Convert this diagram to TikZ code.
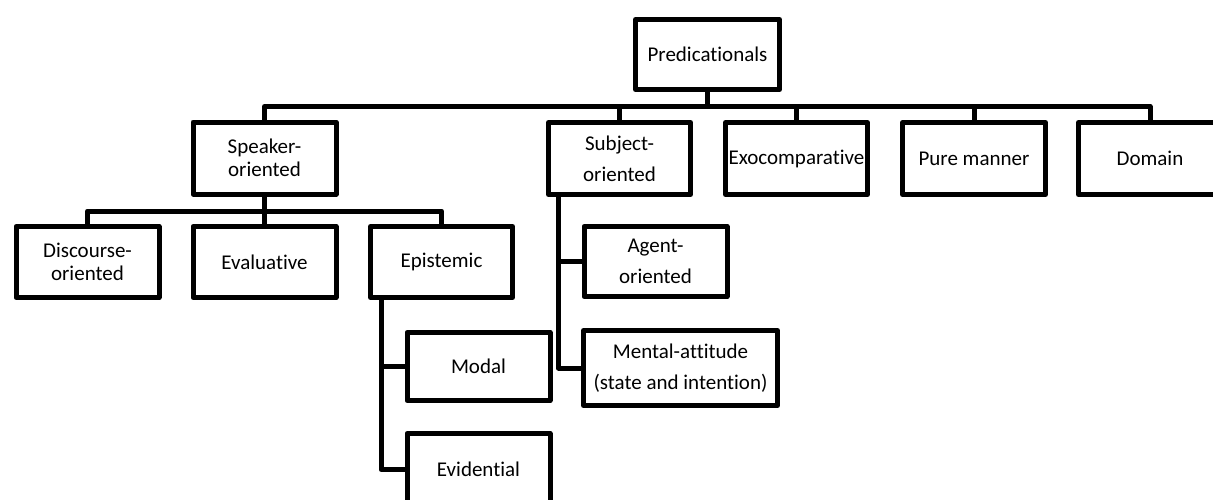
\documentclass[tikz,border=0pt]{standalone}
\usepackage{fontspec}
\setmainfont{Carlito}[Ligatures=NoCommon]
\usetikzlibrary{calc}
\begin{document}
\begin{tikzpicture}[x=1pt,y=-1pt,
  box/.style={draw, line width=5pt, line join=round, inner sep=0pt,
    minimum width=143pt, minimum height=72pt, align=center,
    font=\fontsize{21}{23}\selectfont},
  loose/.style={font=\fontsize{21}{31}\selectfont},
  link/.style={line width=5pt, line join=round}]
\useasboundingbox (0,0) rectangle (1213,499);

% root
\node[box, minimum width=144pt, minimum height=70pt] (pred) at (707.5,54.5) {Predicationals};

% first level
\node[box] (speaker) at (264.5,158) {Speaker-\\oriented};
\node[box, loose, minimum width=142pt] (subject) at (619.5,158.5) {Subject-\\oriented};
\node[box, minimum width=142pt] (exo) at (796.5,158.5) {Exocomparative};
\node[box] (pure) at (974,158.5) {Pure manner};
\node[box] (domain) at (1150,158.5) {Domain};

% speaker-oriented children
\node[box, minimum height=71pt] (discourse) at (87.5,262) {Discourse-\\oriented};
\node[box, minimum height=71pt] (evaluative) at (264.5,262) {Evaluative};
\node[box, minimum height=71pt, minimum width=142pt] (epistemic) at (441.5,262) {Epistemic};

% epistemic children
\node[box, minimum height=68pt] (modal) at (478.5,366.5) {Modal};
\node[box] (evidential) at (478.5,469.5) {Evidential};

% subject-oriented children
\node[box, loose, minimum height=70pt] (agent) at (655.5,261.5) {Agent-\\oriented};
\node[box, loose, minimum width=194pt, minimum height=75pt] (mental) at (680.5,368) {Mental-attitude\\(state and intention)};

% top bus
\coordinate (bus) at (0,106.5);
\draw[link] (speaker.north) -- (speaker.north |- bus) -- (domain.north |- bus) -- (domain.north);
\draw[link] (pred.south) -- (pred.south |- bus);
\draw[link] (subject.north) -- (subject.north |- bus);
\draw[link] (exo.north) -- (exo.north |- bus);
\draw[link] (pure.north) -- (pure.north |- bus);

% speaker-oriented bus
\coordinate (bus2) at (0,211);
\draw[link] (discourse.north) -- (discourse.north |- bus2) -- (epistemic.north |- bus2) -- (epistemic.north);
\draw[link] (speaker.south) -- (evaluative.north);

% epistemic spine
\coordinate (espine) at ($(epistemic.south west)+(13,0)$);
\draw[link] (espine) |- (evidential.west);
\draw[link] (espine |- modal.west) -- (modal.west);

% subject-oriented spine
\coordinate (sspine) at ($(subject.south west)+(12.5,0)$);
\draw[link] (sspine) |- (mental.west);
\draw[link] (sspine |- agent.west) -- (agent.west);
\end{tikzpicture}
\end{document}
